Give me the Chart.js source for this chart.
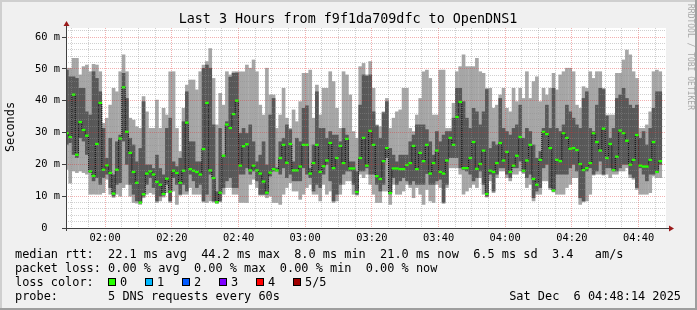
<!DOCTYPE html>
<html><head><meta charset="utf-8">
<script src="https://cdn.jsdelivr.net/npm/chart.js@4/dist/chart.umd.min.js"></script>
<style>
html,body{margin:0;padding:0;background:#f0f0f0;}
#wrap{position:relative;width:697px;height:310px;overflow:hidden;background:#f0f0f0;font-family:"DejaVu Sans Mono",monospace;color:#000;}
#c{position:absolute;left:0;top:0;}
.t{position:absolute;white-space:pre;font-size:11.9px;line-height:14px;}
.sq{position:absolute;width:6px;height:6px;border:1px solid #000;}
.fr{position:absolute;}
</style></head>
<body>
<div id="wrap">
<canvas id="c" width="697" height="310"></canvas>
<div class="fr" style="left:0;top:0;width:697px;height:2px;background:#cfcfcf"></div>
<div class="fr" style="left:0;top:0;width:2px;height:310px;background:#cfcfcf"></div>
<div class="fr" style="left:0;top:308px;width:697px;height:2px;background:#9e9e9e"></div>
<div class="fr" style="left:695px;top:0;width:2px;height:310px;background:#9e9e9e"></div>
<div id="title" class="t" style="left:0;top:11.4px;width:696px;text-align:center;font-size:13.4px;line-height:16px;"></div>
<div id="ylab" class="t" style="left:10px;top:127px;transform:translate(-50%,-50%) rotate(-90deg);line-height:12px;"></div>
<div id="wm" class="t" style="left:686px;top:4px;writing-mode:vertical-rl;font-size:8px;line-height:8px;color:#a8a8a8;"></div>
<div id="l1" class="t" style="left:15px;top:246.9px;"></div>
<div id="l2" class="t" style="left:15px;top:260.9px;"></div>
<div id="l3" class="t" style="left:15px;top:274.9px;"></div>
<div id="l4" class="t" style="left:15px;top:288.9px;"></div>
<div id="date" class="t" style="right:16px;top:288.9px;"></div>
</div>
<script>
// ---- data (ms), one column per minute starting 01:48 ----
const pingMax = [50.3,50.3,53.4,53.4,48.2,50.8,51.3,49.2,51.5,51.3,49.2,33.0,34.6,38.7,44.0,42.9,49.2,54.5,49.2,34.6,34.0,31.9,31.4,41.4,36.6,31.4,31.4,40.3,31.4,37.7,35.6,49.2,49.2,31.4,24.1,37.7,45.0,46.6,46.6,43.5,49.2,51.3,52.4,56.5,47.1,32.5,42.4,38.7,49.2,48.2,49.2,49.2,49.2,49.2,51.3,50.3,52.9,49.2,38.7,35.6,50.3,41.9,41.9,31.4,35.6,44.0,34.6,31.4,37.2,33.5,39.8,48.7,48.7,49.7,34.6,45.0,35.6,44.0,44.0,49.2,46.1,37.7,31.4,49.2,48.2,41.9,30.4,28.3,50.8,51.8,48.2,52.4,44.0,32.5,31.9,36.6,40.8,31.4,34.6,36.6,37.2,44.0,44.0,31.4,30.4,35.6,40.8,49.2,49.7,47.1,35.6,35.6,49.7,49.7,31.4,31.4,39.3,49.2,50.8,54.5,50.8,50.8,50.8,53.4,49.2,48.7,44.0,44.0,37.7,38.7,41.9,44.0,37.7,36.6,44.0,39.8,44.0,40.8,49.2,40.8,46.1,47.6,39.8,44.0,41.9,44.0,48.7,43.5,48.2,49.2,50.3,50.3,49.2,38.7,37.7,44.5,44.0,49.2,47.1,49.2,49.2,44.0,35.6,35.6,35.6,48.7,48.7,52.9,56.0,54.5,49.2,47.1,31.4,31.4,32.5,36.6,49.2,49.7,49.2];
const pingQ3 = [49.7,47.6,47.6,47.1,44.0,44.0,36.6,35.6,49.2,47.1,42.9,31.4,22.0,28.3,16.8,27.2,29.3,48.7,40.8,28.3,26.2,20.9,25.1,39.8,19.9,19.9,18.8,23.0,18.8,16.8,31.4,34.6,20.9,19.4,22.0,33.5,42.9,27.2,27.2,20.9,20.9,50.3,51.3,50.3,32.5,11.5,31.4,23.0,33.5,47.5,48.7,48.8,29.8,31.4,29.8,32.5,27.2,20.9,23.0,27.2,19.9,35.6,40.8,19.0,27.2,28.3,32.5,31.0,20.9,28.3,27.2,37.7,38.5,18.8,26.2,42.9,31.4,31.4,28.3,30.4,29.3,29.3,27.2,31.4,29.3,20.9,20.9,17.8,38.7,48.2,47.8,48.2,36.6,32.2,28.3,36.3,39.8,25.1,23.0,20.9,23.0,23.0,23.0,27.2,29.3,32.5,32.5,32.5,31.0,27.2,23.0,30.4,27.2,29.3,30.4,30.4,34.6,44.0,44.0,39.8,34.6,31.4,37.7,36.6,32.5,36.6,43.6,25.1,27.2,26.2,40.8,31.4,30.4,29.3,31.4,32.5,38.7,28.3,31.4,30.4,26.2,22.0,24.1,31.4,38.7,31.4,44.0,31.4,30.4,32.5,38.7,36.6,34.6,32.5,31.4,40.8,42.9,31.4,30.4,38.7,44.0,43.6,35.3,28.3,31.4,40.8,41.9,44.0,40.8,38.7,37.7,38.7,28.3,30.4,26.2,31.4,37.7,42.9,42.9];
const rttMedian = [29.8,28.6,41.9,23.0,33.3,30.8,29.0,17.8,16.4,26.4,39.3,18.3,19.7,17.3,10.8,18.3,28.1,44.2,30.2,23.6,17.6,14.2,8.0,10.6,17.1,17.8,16.8,14.5,13.6,10.7,15.5,11.4,18.0,17.3,14.2,18.0,33.1,18.5,18.0,17.6,16.8,24.8,39.3,18.1,15.7,8.1,11.1,22.7,32.5,31.4,35.8,40.0,19.6,25.7,26.3,18.1,19.6,18.1,17.1,14.6,11.1,17.4,18.5,18.1,22.0,26.1,20.5,26.4,18.1,18.1,19.3,26.1,26.1,17.1,20.4,26.1,17.6,19.4,21.2,26.7,18.8,22.0,25.8,20.4,28.0,18.7,18.7,11.3,22.0,28.3,19.6,30.5,26.1,16.3,15.4,21.0,25.1,11.0,18.7,18.7,18.5,18.5,19.8,20.4,25.8,18.5,23.6,21.0,26.1,17.1,20.4,24.3,17.6,17.1,21.2,28.3,26.1,34.9,39.6,18.8,18.8,22.0,27.0,18.6,20.1,24.3,10.7,18.0,17.6,20.4,26.7,21.2,23.9,17.6,19.6,22.7,28.6,18.0,21.2,26.1,15.4,13.6,21.4,30.2,29.5,25.1,11.8,21.4,21.0,29.8,28.3,24.9,25.1,24.5,20.1,18.2,18.8,20.4,29.8,27.0,24.3,31.2,22.0,26.4,18.2,22.4,30.6,29.8,27.4,19.9,21.4,29.2,19.6,19.3,19.3,21.4,27.0,17.6,21.0];
const pingQ1 = [26.2,26.7,23.0,22.0,28.3,27.2,23.0,17.3,14.7,15.7,13.6,15.7,16.8,12.6,9.9,13.6,14.1,27.2,19.9,13.6,10.5,8.4,7.9,9.9,13.6,15.7,12.6,8.4,9.9,10.2,13.6,8.4,15.7,13.6,10.5,13.6,11.5,16.8,14.7,12.6,13.6,8.4,10.5,16.8,8.4,7.9,8.4,12.6,14.7,15.7,12.6,12.6,16.8,16.8,18.8,16.8,17.8,14.7,10.5,10.5,10.5,16.2,17.8,17.8,16.8,18.8,15.7,16.8,14.7,14.7,14.7,18.8,16.8,15.7,11.5,13.6,12.6,16.8,19.9,14.7,8.4,10.5,13.6,16.8,17.8,17.8,13.6,10.5,17.8,17.8,18.8,16.8,16.8,13.6,11.5,13.6,22.0,10.6,15.7,13.6,14.7,15.7,14.7,13.6,14.7,13.6,13.6,13.6,17.0,13.6,13.6,14.7,15.2,7.9,13.6,22.0,22.0,22.0,18.8,18.3,17.8,16.8,14.7,15.7,17.8,13.6,9.9,16.8,11.5,16.8,18.8,18.8,16.8,15.7,18.8,18.8,20.9,17.5,15.7,16.8,9.4,11.5,12.6,18.8,19.9,12.6,11.5,16.8,16.8,16.8,16.8,18.8,19.9,17.8,9.4,8.4,17.8,18.8,16.8,17.8,20.9,16.8,18.8,18.8,17.8,17.8,18.8,19.9,19.9,16.8,15.7,12.6,18.8,16.8,14.7,16.8,16.8,17.3,19.9];
const pingMin = [18.3,14.0,17.8,17.3,17.8,17.3,16.8,10.5,10.5,10.5,10.5,11.0,15.2,10.5,9.5,10.5,9.9,12.6,13.6,9.9,7.9,7.7,7.3,9.4,10.5,11.0,10.5,7.9,8.4,9.6,11.0,7.9,11.5,7.3,10.2,10.5,10.5,12.6,10.5,10.5,10.5,8.0,7.9,8.4,8.0,7.6,8.1,10.5,12.6,12.6,10.5,10.5,7.9,7.9,7.9,13.6,15.2,12.6,10.2,10.2,9.4,9.9,7.9,7.9,7.3,10.5,12.6,14.1,11.5,11.5,8.9,10.5,12.6,13.6,10.5,10.5,8.4,13.6,10.5,11.5,7.9,8.4,10.5,13.6,14.7,14.7,10.5,10.2,16.8,15.7,16.8,13.6,10.5,7.9,7.9,11.5,11.5,7.3,13.6,10.5,10.5,11.5,13.6,12.6,9.4,12.6,10.5,7.3,12.0,8.4,7.9,13.6,12.6,7.6,12.6,18.8,18.8,18.8,16.8,10.5,11.5,12.6,13.6,12.6,15.7,10.5,9.6,14.7,11.0,15.7,17.8,17.8,15.7,14.7,16.8,16.8,17.8,17.0,12.6,13.6,8.4,10.5,10.5,14.7,14.7,12.0,11.2,10.5,10.5,10.5,12.6,13.6,15.7,15.7,7.3,8.1,8.4,10.5,16.5,16.8,16.8,16.5,16.8,15.7,16.8,16.8,17.8,17.8,18.8,15.7,15.2,12.0,10.5,10.5,10.5,11.0,16.2,15.7,15.7];

const firstSlotMinute = 108;           // 01:48
const xStart = 108 + 14/60;            // 01:48:14
const xEnd = xStart + 180;             // 04:48:14
const xTickMinutes = [120,140,160,180,200,220,240,260,280];
const xTickLabels = ['02:00','02:20','02:40','03:00','03:20','03:40','04:00','04:20','04:40'];
const yTickValues = [0,10,20,30,40,50,60];
const yTickLabels = ['0  ','10 m','20 m','30 m','40 m','50 m','60 m'];
const lossLabels = ['0','1','2','3','4','5/5'];
const lossColors = ['#26ff00','#00b8ff','#0059ff','#7e00ff','#ff0000','#a00000'];

// ---- texts ----
document.getElementById('title').textContent = 'Last 3 Hours from f9f1da709dfc to OpenDNS1';
document.getElementById('ylab').textContent = 'Seconds';
document.getElementById('wm').textContent = 'RRDTOOL / TOBI OETIKER';
document.getElementById('l1').textContent = 'median rtt:  22.1 ms avg  44.2 ms max  8.0 ms min  21.0 ms now  6.5 ms sd  3.4   am/s';
document.getElementById('l2').textContent = 'packet loss: 0.00 % avg  0.00 % max  0.00 % min  0.00 % now';
document.getElementById('l3').textContent = 'loss color:';
document.getElementById('l4').textContent = 'probe:       5 DNS requests every 60s';
document.getElementById('date').textContent = 'Sat Dec  6 04:48:14 2025';
const wrap = document.getElementById('wrap');
lossLabels.forEach((lab, i) => {
  const sx = 108 + i * 37;
  const sq = document.createElement('div');
  sq.className = 'sq';
  sq.style.left = sx + 'px'; sq.style.top = '278px'; sq.style.background = lossColors[i];
  wrap.appendChild(sq);
  const t = document.createElement('div');
  t.className = 't';
  t.style.left = (sx + 12) + 'px'; t.style.top = '274.9px';
  t.textContent = lab;
  wrap.appendChild(t);
});

// ---- chart ----
const xs = rttMedian.map((_, i) => firstSlotMinute + 0.5 + i);
const range = (lo, hi) => xs.map((x, i) => ({x, y: [lo[i], hi[i]]}));
const GRID = 'rgba(143,143,143,0.42)';
const MGRID = 'rgba(222,48,48,0.38)';

const chromePlugin = {
  id: 'chrome',
  beforeDraw(chart) {
    const {ctx, chartArea: a} = chart;
    ctx.save();
    ctx.fillStyle = '#ffffff';
    ctx.fillRect(a.left, a.top, a.right - a.left, a.bottom - a.top);
    ctx.restore();
  },
  afterDraw(chart) {
    const {ctx, chartArea: a} = chart;
    ctx.save();
    ctx.strokeStyle = '#404040';
    ctx.lineWidth = 1;
    ctx.beginPath();
    ctx.moveTo(a.left + 0.5, a.bottom + 3);
    ctx.lineTo(a.left + 0.5, a.top - 4);
    ctx.moveTo(a.left - 3, a.bottom + 0.5);
    ctx.lineTo(a.right + 5, a.bottom + 0.5);
    ctx.stroke();
    ctx.fillStyle = '#9a1a1a';
    ctx.beginPath();
    ctx.moveTo(a.left + 0.5, a.top - 7);
    ctx.lineTo(a.left - 2.5, a.top - 2);
    ctx.lineTo(a.left + 3.5, a.top - 2);
    ctx.closePath();
    ctx.fill();
    ctx.beginPath();
    ctx.moveTo(a.right + 8, a.bottom + 0.5);
    ctx.lineTo(a.right + 3, a.bottom - 2.5);
    ctx.lineTo(a.right + 3, a.bottom + 3.5);
    ctx.closePath();
    ctx.fill();
    ctx.restore();
  }
};

const barCommon = {type: 'bar', grouped: false, barPercentage: 1.1, categoryPercentage: 1, borderWidth: 0};

new Chart(document.getElementById('c'), {
  type: 'bar',
  data: {
    datasets: [
      Object.assign({data: range(pingMin, pingMax), backgroundColor: '#a6a6a6', order: 4}, barCommon),
      Object.assign({data: range(pingQ1, pingQ3), backgroundColor: '#585858', order: 3}, barCommon),
      {type: 'line', data: xs.map((x, i) => ({x, y: rttMedian[i]})), borderColor: '#000000', borderWidth: 1,
       borderDash: [1, 1], stepped: 'middle', pointRadius: 0, fill: false, order: 2},
      Object.assign({data: xs.map((x, i) => ({x, y: [rttMedian[i] - 0.36, rttMedian[i] + 0.36]})),
        backgroundColor: '#26ff00', order: 1}, barCommon)
    ]
  },
  options: {
    responsive: false,
    animation: false,
    devicePixelRatio: 1,
    layout: {padding: {left: 0, right: 31, top: 28, bottom: 0}},
    plugins: {legend: {display: false}, tooltip: {enabled: false}, title: {display: false}},
    scales: {
      x: {
        type: 'linear', min: xStart, max: xEnd, offset: false,
        afterFit: s => { s.height = 82; },
        afterBuildTicks: s => {
          const t = [];
          for (let m = 110; m <= 285; m += 5) t.push({value: m});
          s.ticks = t;
        },
        grid: {offset: false, z: 1, drawTicks: false,
          color: c => (c.tick && c.tick.value % 20 === 0) ? MGRID : GRID},
        border: {display: false, dash: [1, 1]},
        ticks: {autoSkip: false, maxRotation: 0, padding: 4, color: '#000',
          font: {family: 'DejaVu Sans Mono', size: 10.4},
          callback: v => { const k = xTickMinutes.indexOf(v); return k >= 0 ? xTickLabels[k] : ''; }}
      },
      y: {
        min: 0, max: 62.83,
        afterFit: s => { s.width = 66; },
        afterBuildTicks: s => {
          const t = [];
          for (let v = 0; v <= 62; v += 2) t.push({value: v});
          s.ticks = t;
        },
        grid: {z: 1, drawTicks: true, tickLength: 4,
          color: c => (c.tick && c.tick.value % 10 === 0) ? MGRID : GRID,
          tickColor: c => (c.tick && c.tick.value % 10 === 0) ? '#404040' : 'rgba(0,0,0,0)'},
        border: {display: false, dash: [1, 1]},
        ticks: {autoSkip: false, padding: 2, color: '#000',
          font: {family: 'DejaVu Sans Mono', size: 10.4},
          callback: v => { const k = yTickValues.indexOf(v); return k >= 0 ? yTickLabels[k] : ''; }}
      }
    }
  },
  plugins: [chromePlugin]
});
</script>
</body></html>
